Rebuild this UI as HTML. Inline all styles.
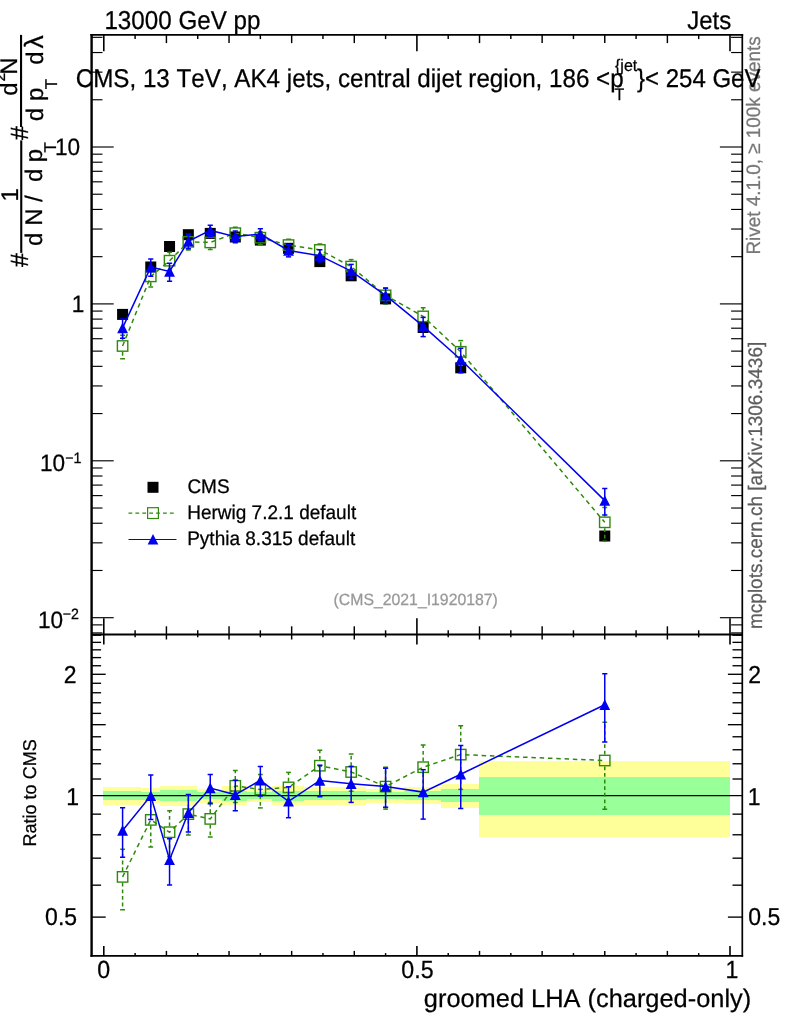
<!DOCTYPE html>
<html lang="en"><head><meta charset="utf-8"><title>groomed LHA (charged-only)</title>
<style>html,body{margin:0;padding:0;background:#fff;}svg{display:block;}</style></head>
<body>
<svg width="786" height="1024" viewBox="0 0 786 1024" font-family="'Liberation Sans', sans-serif" style="font-kerning:none" text-rendering="geometricPrecision">
<rect x="0" y="0" width="786" height="1024" fill="#ffffff"/>
<g shape-rendering="crispEdges">
<rect x="103.20" y="786.85" width="37.57" height="17.70" fill="#ffff99"/>
<rect x="140.77" y="788.20" width="18.79" height="15.00" fill="#ffff99"/>
<rect x="159.56" y="785.90" width="18.79" height="19.60" fill="#ffff99"/>
<rect x="178.34" y="785.90" width="18.79" height="19.60" fill="#ffff99"/>
<rect x="197.13" y="788.80" width="25.05" height="13.80" fill="#ffff99"/>
<rect x="222.18" y="786.40" width="25.05" height="18.60" fill="#ffff99"/>
<rect x="247.23" y="789.00" width="25.05" height="13.40" fill="#ffff99"/>
<rect x="272.27" y="786.40" width="31.31" height="18.60" fill="#ffff99"/>
<rect x="303.58" y="786.90" width="31.31" height="17.60" fill="#ffff99"/>
<rect x="334.89" y="786.90" width="31.31" height="17.60" fill="#ffff99"/>
<rect x="366.20" y="788.80" width="37.57" height="13.80" fill="#ffff99"/>
<rect x="403.78" y="787.30" width="37.57" height="16.80" fill="#ffff99"/>
<rect x="441.35" y="783.50" width="37.57" height="24.40" fill="#ffff99"/>
<rect x="103.20" y="791.10" width="37.57" height="9.20" fill="#99ff99"/>
<rect x="140.77" y="791.90" width="18.79" height="7.60" fill="#99ff99"/>
<rect x="159.56" y="790.40" width="18.79" height="10.60" fill="#99ff99"/>
<rect x="178.34" y="790.40" width="18.79" height="10.60" fill="#99ff99"/>
<rect x="197.13" y="792.10" width="25.05" height="7.20" fill="#99ff99"/>
<rect x="222.18" y="790.80" width="25.05" height="9.80" fill="#99ff99"/>
<rect x="247.23" y="792.20" width="25.05" height="7.00" fill="#99ff99"/>
<rect x="272.27" y="790.80" width="31.31" height="9.80" fill="#99ff99"/>
<rect x="303.58" y="791.00" width="31.31" height="9.40" fill="#99ff99"/>
<rect x="334.89" y="791.00" width="31.31" height="9.40" fill="#99ff99"/>
<rect x="366.20" y="792.30" width="37.57" height="6.80" fill="#99ff99"/>
<rect x="403.78" y="791.30" width="37.57" height="8.80" fill="#99ff99"/>
<rect x="441.35" y="789.40" width="37.57" height="12.60" fill="#99ff99"/>
<rect x="478.92" y="761.0" width="251.48" height="75.70" fill="#ffff99"/>
<rect x="478.92" y="777.3" width="251.48" height="37.60" fill="#99ff99"/>
</g>
<line x1="91.4" y1="795.7" x2="742.2" y2="795.7" stroke="#000" stroke-width="1.2"/>
<line x1="91.40" y1="632.91" x2="102.50" y2="632.91" stroke="#000" stroke-width="1.15"/>
<line x1="742.20" y1="632.91" x2="731.10" y2="632.91" stroke="#000" stroke-width="1.15"/>
<line x1="91.40" y1="624.88" x2="102.50" y2="624.88" stroke="#000" stroke-width="1.15"/>
<line x1="742.20" y1="624.88" x2="731.10" y2="624.88" stroke="#000" stroke-width="1.15"/>
<line x1="91.40" y1="617.70" x2="113.70" y2="617.70" stroke="#000" stroke-width="1.15"/>
<line x1="742.20" y1="617.70" x2="719.90" y2="617.70" stroke="#000" stroke-width="1.15"/>
<line x1="91.40" y1="570.47" x2="102.50" y2="570.47" stroke="#000" stroke-width="1.15"/>
<line x1="742.20" y1="570.47" x2="731.10" y2="570.47" stroke="#000" stroke-width="1.15"/>
<line x1="91.40" y1="542.84" x2="102.50" y2="542.84" stroke="#000" stroke-width="1.15"/>
<line x1="742.20" y1="542.84" x2="731.10" y2="542.84" stroke="#000" stroke-width="1.15"/>
<line x1="91.40" y1="523.24" x2="102.50" y2="523.24" stroke="#000" stroke-width="1.15"/>
<line x1="742.20" y1="523.24" x2="731.10" y2="523.24" stroke="#000" stroke-width="1.15"/>
<line x1="91.40" y1="508.03" x2="102.50" y2="508.03" stroke="#000" stroke-width="1.15"/>
<line x1="742.20" y1="508.03" x2="731.10" y2="508.03" stroke="#000" stroke-width="1.15"/>
<line x1="91.40" y1="495.61" x2="102.50" y2="495.61" stroke="#000" stroke-width="1.15"/>
<line x1="742.20" y1="495.61" x2="731.10" y2="495.61" stroke="#000" stroke-width="1.15"/>
<line x1="91.40" y1="485.10" x2="102.50" y2="485.10" stroke="#000" stroke-width="1.15"/>
<line x1="742.20" y1="485.10" x2="731.10" y2="485.10" stroke="#000" stroke-width="1.15"/>
<line x1="91.40" y1="476.01" x2="102.50" y2="476.01" stroke="#000" stroke-width="1.15"/>
<line x1="742.20" y1="476.01" x2="731.10" y2="476.01" stroke="#000" stroke-width="1.15"/>
<line x1="91.40" y1="467.98" x2="102.50" y2="467.98" stroke="#000" stroke-width="1.15"/>
<line x1="742.20" y1="467.98" x2="731.10" y2="467.98" stroke="#000" stroke-width="1.15"/>
<line x1="91.40" y1="460.80" x2="113.70" y2="460.80" stroke="#000" stroke-width="1.15"/>
<line x1="742.20" y1="460.80" x2="719.90" y2="460.80" stroke="#000" stroke-width="1.15"/>
<line x1="91.40" y1="413.57" x2="102.50" y2="413.57" stroke="#000" stroke-width="1.15"/>
<line x1="742.20" y1="413.57" x2="731.10" y2="413.57" stroke="#000" stroke-width="1.15"/>
<line x1="91.40" y1="385.94" x2="102.50" y2="385.94" stroke="#000" stroke-width="1.15"/>
<line x1="742.20" y1="385.94" x2="731.10" y2="385.94" stroke="#000" stroke-width="1.15"/>
<line x1="91.40" y1="366.34" x2="102.50" y2="366.34" stroke="#000" stroke-width="1.15"/>
<line x1="742.20" y1="366.34" x2="731.10" y2="366.34" stroke="#000" stroke-width="1.15"/>
<line x1="91.40" y1="351.13" x2="102.50" y2="351.13" stroke="#000" stroke-width="1.15"/>
<line x1="742.20" y1="351.13" x2="731.10" y2="351.13" stroke="#000" stroke-width="1.15"/>
<line x1="91.40" y1="338.71" x2="102.50" y2="338.71" stroke="#000" stroke-width="1.15"/>
<line x1="742.20" y1="338.71" x2="731.10" y2="338.71" stroke="#000" stroke-width="1.15"/>
<line x1="91.40" y1="328.20" x2="102.50" y2="328.20" stroke="#000" stroke-width="1.15"/>
<line x1="742.20" y1="328.20" x2="731.10" y2="328.20" stroke="#000" stroke-width="1.15"/>
<line x1="91.40" y1="319.11" x2="102.50" y2="319.11" stroke="#000" stroke-width="1.15"/>
<line x1="742.20" y1="319.11" x2="731.10" y2="319.11" stroke="#000" stroke-width="1.15"/>
<line x1="91.40" y1="311.08" x2="102.50" y2="311.08" stroke="#000" stroke-width="1.15"/>
<line x1="742.20" y1="311.08" x2="731.10" y2="311.08" stroke="#000" stroke-width="1.15"/>
<line x1="91.40" y1="303.90" x2="113.70" y2="303.90" stroke="#000" stroke-width="1.15"/>
<line x1="742.20" y1="303.90" x2="719.90" y2="303.90" stroke="#000" stroke-width="1.15"/>
<line x1="91.40" y1="256.67" x2="102.50" y2="256.67" stroke="#000" stroke-width="1.15"/>
<line x1="742.20" y1="256.67" x2="731.10" y2="256.67" stroke="#000" stroke-width="1.15"/>
<line x1="91.40" y1="229.04" x2="102.50" y2="229.04" stroke="#000" stroke-width="1.15"/>
<line x1="742.20" y1="229.04" x2="731.10" y2="229.04" stroke="#000" stroke-width="1.15"/>
<line x1="91.40" y1="209.44" x2="102.50" y2="209.44" stroke="#000" stroke-width="1.15"/>
<line x1="742.20" y1="209.44" x2="731.10" y2="209.44" stroke="#000" stroke-width="1.15"/>
<line x1="91.40" y1="194.23" x2="102.50" y2="194.23" stroke="#000" stroke-width="1.15"/>
<line x1="742.20" y1="194.23" x2="731.10" y2="194.23" stroke="#000" stroke-width="1.15"/>
<line x1="91.40" y1="181.81" x2="102.50" y2="181.81" stroke="#000" stroke-width="1.15"/>
<line x1="742.20" y1="181.81" x2="731.10" y2="181.81" stroke="#000" stroke-width="1.15"/>
<line x1="91.40" y1="171.30" x2="102.50" y2="171.30" stroke="#000" stroke-width="1.15"/>
<line x1="742.20" y1="171.30" x2="731.10" y2="171.30" stroke="#000" stroke-width="1.15"/>
<line x1="91.40" y1="162.21" x2="102.50" y2="162.21" stroke="#000" stroke-width="1.15"/>
<line x1="742.20" y1="162.21" x2="731.10" y2="162.21" stroke="#000" stroke-width="1.15"/>
<line x1="91.40" y1="154.18" x2="102.50" y2="154.18" stroke="#000" stroke-width="1.15"/>
<line x1="742.20" y1="154.18" x2="731.10" y2="154.18" stroke="#000" stroke-width="1.15"/>
<line x1="91.40" y1="147.00" x2="113.70" y2="147.00" stroke="#000" stroke-width="1.15"/>
<line x1="742.20" y1="147.00" x2="719.90" y2="147.00" stroke="#000" stroke-width="1.15"/>
<line x1="91.40" y1="99.77" x2="102.50" y2="99.77" stroke="#000" stroke-width="1.15"/>
<line x1="742.20" y1="99.77" x2="731.10" y2="99.77" stroke="#000" stroke-width="1.15"/>
<line x1="91.40" y1="72.14" x2="102.50" y2="72.14" stroke="#000" stroke-width="1.15"/>
<line x1="742.20" y1="72.14" x2="731.10" y2="72.14" stroke="#000" stroke-width="1.15"/>
<line x1="91.40" y1="52.54" x2="102.50" y2="52.54" stroke="#000" stroke-width="1.15"/>
<line x1="742.20" y1="52.54" x2="731.10" y2="52.54" stroke="#000" stroke-width="1.15"/>
<line x1="91.40" y1="37.33" x2="102.50" y2="37.33" stroke="#000" stroke-width="1.15"/>
<line x1="742.20" y1="37.33" x2="731.10" y2="37.33" stroke="#000" stroke-width="1.15"/>
<line x1="91.40" y1="917.11" x2="105.70" y2="917.11" stroke="#000" stroke-width="1.35"/>
<line x1="742.20" y1="917.11" x2="727.90" y2="917.11" stroke="#000" stroke-width="1.35"/>
<line x1="91.40" y1="885.17" x2="101.10" y2="885.17" stroke="#000" stroke-width="1.35"/>
<line x1="742.20" y1="885.17" x2="732.50" y2="885.17" stroke="#000" stroke-width="1.35"/>
<line x1="91.40" y1="858.17" x2="101.10" y2="858.17" stroke="#000" stroke-width="1.35"/>
<line x1="742.20" y1="858.17" x2="732.50" y2="858.17" stroke="#000" stroke-width="1.35"/>
<line x1="91.40" y1="834.78" x2="101.10" y2="834.78" stroke="#000" stroke-width="1.35"/>
<line x1="742.20" y1="834.78" x2="732.50" y2="834.78" stroke="#000" stroke-width="1.35"/>
<line x1="91.40" y1="814.15" x2="101.10" y2="814.15" stroke="#000" stroke-width="1.35"/>
<line x1="742.20" y1="814.15" x2="732.50" y2="814.15" stroke="#000" stroke-width="1.35"/>
<line x1="91.40" y1="779.01" x2="101.10" y2="779.01" stroke="#000" stroke-width="1.35"/>
<line x1="742.20" y1="779.01" x2="732.50" y2="779.01" stroke="#000" stroke-width="1.35"/>
<line x1="91.40" y1="763.77" x2="101.10" y2="763.77" stroke="#000" stroke-width="1.35"/>
<line x1="742.20" y1="763.77" x2="732.50" y2="763.77" stroke="#000" stroke-width="1.35"/>
<line x1="91.40" y1="749.75" x2="101.10" y2="749.75" stroke="#000" stroke-width="1.35"/>
<line x1="742.20" y1="749.75" x2="732.50" y2="749.75" stroke="#000" stroke-width="1.35"/>
<line x1="91.40" y1="736.77" x2="101.10" y2="736.77" stroke="#000" stroke-width="1.35"/>
<line x1="742.20" y1="736.77" x2="732.50" y2="736.77" stroke="#000" stroke-width="1.35"/>
<line x1="91.40" y1="724.68" x2="105.70" y2="724.68" stroke="#000" stroke-width="1.35"/>
<line x1="742.20" y1="724.68" x2="727.90" y2="724.68" stroke="#000" stroke-width="1.35"/>
<line x1="91.40" y1="713.38" x2="101.10" y2="713.38" stroke="#000" stroke-width="1.35"/>
<line x1="742.20" y1="713.38" x2="732.50" y2="713.38" stroke="#000" stroke-width="1.35"/>
<line x1="91.40" y1="702.76" x2="101.10" y2="702.76" stroke="#000" stroke-width="1.35"/>
<line x1="742.20" y1="702.76" x2="732.50" y2="702.76" stroke="#000" stroke-width="1.35"/>
<line x1="91.40" y1="692.75" x2="101.10" y2="692.75" stroke="#000" stroke-width="1.35"/>
<line x1="742.20" y1="692.75" x2="732.50" y2="692.75" stroke="#000" stroke-width="1.35"/>
<line x1="91.40" y1="683.28" x2="101.10" y2="683.28" stroke="#000" stroke-width="1.35"/>
<line x1="742.20" y1="683.28" x2="732.50" y2="683.28" stroke="#000" stroke-width="1.35"/>
<line x1="91.40" y1="674.29" x2="105.70" y2="674.29" stroke="#000" stroke-width="1.35"/>
<line x1="742.20" y1="674.29" x2="727.90" y2="674.29" stroke="#000" stroke-width="1.35"/>
<line x1="91.40" y1="665.75" x2="101.10" y2="665.75" stroke="#000" stroke-width="1.35"/>
<line x1="742.20" y1="665.75" x2="732.50" y2="665.75" stroke="#000" stroke-width="1.35"/>
<line x1="91.40" y1="657.60" x2="101.10" y2="657.60" stroke="#000" stroke-width="1.35"/>
<line x1="742.20" y1="657.60" x2="732.50" y2="657.60" stroke="#000" stroke-width="1.35"/>
<line x1="91.40" y1="649.82" x2="101.10" y2="649.82" stroke="#000" stroke-width="1.35"/>
<line x1="742.20" y1="649.82" x2="732.50" y2="649.82" stroke="#000" stroke-width="1.35"/>
<line x1="91.40" y1="642.36" x2="101.10" y2="642.36" stroke="#000" stroke-width="1.35"/>
<line x1="742.20" y1="642.36" x2="732.50" y2="642.36" stroke="#000" stroke-width="1.35"/>
<line x1="91.40" y1="635.21" x2="101.10" y2="635.21" stroke="#000" stroke-width="1.35"/>
<line x1="742.20" y1="635.21" x2="732.50" y2="635.21" stroke="#000" stroke-width="1.35"/>
<line x1="103.80" y1="34.90" x2="103.80" y2="51.20" stroke="#000" stroke-width="1.6"/>
<line x1="103.80" y1="634.50" x2="103.80" y2="618.20" stroke="#000" stroke-width="1.6"/>
<line x1="103.80" y1="634.50" x2="103.80" y2="644.50" stroke="#000" stroke-width="1.6"/>
<line x1="103.80" y1="955.90" x2="103.80" y2="945.90" stroke="#000" stroke-width="1.6"/>
<line x1="135.11" y1="34.90" x2="135.11" y2="39.10" stroke="#000" stroke-width="1.45"/>
<line x1="135.11" y1="634.50" x2="135.11" y2="630.30" stroke="#000" stroke-width="1.45"/>
<line x1="135.11" y1="634.50" x2="135.11" y2="637.30" stroke="#000" stroke-width="1.45"/>
<line x1="135.11" y1="955.90" x2="135.11" y2="953.10" stroke="#000" stroke-width="1.45"/>
<line x1="166.42" y1="34.90" x2="166.42" y2="43.10" stroke="#000" stroke-width="1.45"/>
<line x1="166.42" y1="634.50" x2="166.42" y2="626.30" stroke="#000" stroke-width="1.45"/>
<line x1="166.42" y1="634.50" x2="166.42" y2="639.50" stroke="#000" stroke-width="1.45"/>
<line x1="166.42" y1="955.90" x2="166.42" y2="950.90" stroke="#000" stroke-width="1.45"/>
<line x1="197.73" y1="34.90" x2="197.73" y2="39.10" stroke="#000" stroke-width="1.45"/>
<line x1="197.73" y1="634.50" x2="197.73" y2="630.30" stroke="#000" stroke-width="1.45"/>
<line x1="197.73" y1="634.50" x2="197.73" y2="637.30" stroke="#000" stroke-width="1.45"/>
<line x1="197.73" y1="955.90" x2="197.73" y2="953.10" stroke="#000" stroke-width="1.45"/>
<line x1="229.04" y1="34.90" x2="229.04" y2="43.10" stroke="#000" stroke-width="1.45"/>
<line x1="229.04" y1="634.50" x2="229.04" y2="626.30" stroke="#000" stroke-width="1.45"/>
<line x1="229.04" y1="634.50" x2="229.04" y2="639.50" stroke="#000" stroke-width="1.45"/>
<line x1="229.04" y1="955.90" x2="229.04" y2="950.90" stroke="#000" stroke-width="1.45"/>
<line x1="260.35" y1="34.90" x2="260.35" y2="39.10" stroke="#000" stroke-width="1.45"/>
<line x1="260.35" y1="634.50" x2="260.35" y2="630.30" stroke="#000" stroke-width="1.45"/>
<line x1="260.35" y1="634.50" x2="260.35" y2="637.30" stroke="#000" stroke-width="1.45"/>
<line x1="260.35" y1="955.90" x2="260.35" y2="953.10" stroke="#000" stroke-width="1.45"/>
<line x1="291.66" y1="34.90" x2="291.66" y2="43.10" stroke="#000" stroke-width="1.45"/>
<line x1="291.66" y1="634.50" x2="291.66" y2="626.30" stroke="#000" stroke-width="1.45"/>
<line x1="291.66" y1="634.50" x2="291.66" y2="639.50" stroke="#000" stroke-width="1.45"/>
<line x1="291.66" y1="955.90" x2="291.66" y2="950.90" stroke="#000" stroke-width="1.45"/>
<line x1="322.97" y1="34.90" x2="322.97" y2="39.10" stroke="#000" stroke-width="1.45"/>
<line x1="322.97" y1="634.50" x2="322.97" y2="630.30" stroke="#000" stroke-width="1.45"/>
<line x1="322.97" y1="634.50" x2="322.97" y2="637.30" stroke="#000" stroke-width="1.45"/>
<line x1="322.97" y1="955.90" x2="322.97" y2="953.10" stroke="#000" stroke-width="1.45"/>
<line x1="354.28" y1="34.90" x2="354.28" y2="43.10" stroke="#000" stroke-width="1.45"/>
<line x1="354.28" y1="634.50" x2="354.28" y2="626.30" stroke="#000" stroke-width="1.45"/>
<line x1="354.28" y1="634.50" x2="354.28" y2="639.50" stroke="#000" stroke-width="1.45"/>
<line x1="354.28" y1="955.90" x2="354.28" y2="950.90" stroke="#000" stroke-width="1.45"/>
<line x1="385.59" y1="34.90" x2="385.59" y2="39.10" stroke="#000" stroke-width="1.45"/>
<line x1="385.59" y1="634.50" x2="385.59" y2="630.30" stroke="#000" stroke-width="1.45"/>
<line x1="385.59" y1="634.50" x2="385.59" y2="637.30" stroke="#000" stroke-width="1.45"/>
<line x1="385.59" y1="955.90" x2="385.59" y2="953.10" stroke="#000" stroke-width="1.45"/>
<line x1="416.90" y1="34.90" x2="416.90" y2="51.20" stroke="#000" stroke-width="1.6"/>
<line x1="416.90" y1="634.50" x2="416.90" y2="618.20" stroke="#000" stroke-width="1.6"/>
<line x1="416.90" y1="634.50" x2="416.90" y2="644.50" stroke="#000" stroke-width="1.6"/>
<line x1="416.90" y1="955.90" x2="416.90" y2="945.90" stroke="#000" stroke-width="1.6"/>
<line x1="448.21" y1="34.90" x2="448.21" y2="39.10" stroke="#000" stroke-width="1.45"/>
<line x1="448.21" y1="634.50" x2="448.21" y2="630.30" stroke="#000" stroke-width="1.45"/>
<line x1="448.21" y1="634.50" x2="448.21" y2="637.30" stroke="#000" stroke-width="1.45"/>
<line x1="448.21" y1="955.90" x2="448.21" y2="953.10" stroke="#000" stroke-width="1.45"/>
<line x1="479.52" y1="34.90" x2="479.52" y2="43.10" stroke="#000" stroke-width="1.45"/>
<line x1="479.52" y1="634.50" x2="479.52" y2="626.30" stroke="#000" stroke-width="1.45"/>
<line x1="479.52" y1="634.50" x2="479.52" y2="639.50" stroke="#000" stroke-width="1.45"/>
<line x1="479.52" y1="955.90" x2="479.52" y2="950.90" stroke="#000" stroke-width="1.45"/>
<line x1="510.83" y1="34.90" x2="510.83" y2="39.10" stroke="#000" stroke-width="1.45"/>
<line x1="510.83" y1="634.50" x2="510.83" y2="630.30" stroke="#000" stroke-width="1.45"/>
<line x1="510.83" y1="634.50" x2="510.83" y2="637.30" stroke="#000" stroke-width="1.45"/>
<line x1="510.83" y1="955.90" x2="510.83" y2="953.10" stroke="#000" stroke-width="1.45"/>
<line x1="542.14" y1="34.90" x2="542.14" y2="43.10" stroke="#000" stroke-width="1.45"/>
<line x1="542.14" y1="634.50" x2="542.14" y2="626.30" stroke="#000" stroke-width="1.45"/>
<line x1="542.14" y1="634.50" x2="542.14" y2="639.50" stroke="#000" stroke-width="1.45"/>
<line x1="542.14" y1="955.90" x2="542.14" y2="950.90" stroke="#000" stroke-width="1.45"/>
<line x1="573.45" y1="34.90" x2="573.45" y2="39.10" stroke="#000" stroke-width="1.45"/>
<line x1="573.45" y1="634.50" x2="573.45" y2="630.30" stroke="#000" stroke-width="1.45"/>
<line x1="573.45" y1="634.50" x2="573.45" y2="637.30" stroke="#000" stroke-width="1.45"/>
<line x1="573.45" y1="955.90" x2="573.45" y2="953.10" stroke="#000" stroke-width="1.45"/>
<line x1="604.76" y1="34.90" x2="604.76" y2="43.10" stroke="#000" stroke-width="1.45"/>
<line x1="604.76" y1="634.50" x2="604.76" y2="626.30" stroke="#000" stroke-width="1.45"/>
<line x1="604.76" y1="634.50" x2="604.76" y2="639.50" stroke="#000" stroke-width="1.45"/>
<line x1="604.76" y1="955.90" x2="604.76" y2="950.90" stroke="#000" stroke-width="1.45"/>
<line x1="636.07" y1="34.90" x2="636.07" y2="39.10" stroke="#000" stroke-width="1.45"/>
<line x1="636.07" y1="634.50" x2="636.07" y2="630.30" stroke="#000" stroke-width="1.45"/>
<line x1="636.07" y1="634.50" x2="636.07" y2="637.30" stroke="#000" stroke-width="1.45"/>
<line x1="636.07" y1="955.90" x2="636.07" y2="953.10" stroke="#000" stroke-width="1.45"/>
<line x1="667.38" y1="34.90" x2="667.38" y2="43.10" stroke="#000" stroke-width="1.45"/>
<line x1="667.38" y1="634.50" x2="667.38" y2="626.30" stroke="#000" stroke-width="1.45"/>
<line x1="667.38" y1="634.50" x2="667.38" y2="639.50" stroke="#000" stroke-width="1.45"/>
<line x1="667.38" y1="955.90" x2="667.38" y2="950.90" stroke="#000" stroke-width="1.45"/>
<line x1="698.69" y1="34.90" x2="698.69" y2="39.10" stroke="#000" stroke-width="1.45"/>
<line x1="698.69" y1="634.50" x2="698.69" y2="630.30" stroke="#000" stroke-width="1.45"/>
<line x1="698.69" y1="634.50" x2="698.69" y2="637.30" stroke="#000" stroke-width="1.45"/>
<line x1="698.69" y1="955.90" x2="698.69" y2="953.10" stroke="#000" stroke-width="1.45"/>
<line x1="730.00" y1="34.90" x2="730.00" y2="51.20" stroke="#000" stroke-width="1.6"/>
<line x1="730.00" y1="634.50" x2="730.00" y2="618.20" stroke="#000" stroke-width="1.6"/>
<line x1="730.00" y1="634.50" x2="730.00" y2="644.50" stroke="#000" stroke-width="1.6"/>
<line x1="730.00" y1="955.90" x2="730.00" y2="945.90" stroke="#000" stroke-width="1.6"/>
<line x1="91.60000000000001" y1="34.0" x2="91.60000000000001" y2="956.8" stroke="#000" stroke-width="2.4"/>
<line x1="742.3000000000001" y1="34.0" x2="742.3000000000001" y2="956.8" stroke="#000" stroke-width="1.7"/>
<line x1="90.4" y1="34.9" x2="743.1500000000001" y2="34.9" stroke="#000" stroke-width="1.8"/>
<line x1="90.4" y1="955.9" x2="743.1500000000001" y2="955.9" stroke="#000" stroke-width="1.8"/>
<line x1="91.4" y1="634.5" x2="742.2" y2="634.5" stroke="#000" stroke-width="2.2"/>
<defs>
<clipPath id="cm"><rect x="91.4" y="34.9" width="650.80" height="599.60"/></clipPath>
<clipPath id="cr"><rect x="91.4" y="634.5" width="650.80" height="321.40"/></clipPath>
</defs>
<rect x="117.09" y="308.90" width="11.00" height="11.00" fill="#000"/>
<rect x="145.26" y="261.50" width="11.00" height="11.00" fill="#000"/>
<rect x="164.05" y="241.00" width="11.00" height="11.00" fill="#000"/>
<rect x="182.84" y="229.20" width="11.00" height="11.00" fill="#000"/>
<rect x="204.75" y="227.90" width="11.00" height="11.00" fill="#000"/>
<rect x="229.80" y="231.50" width="11.00" height="11.00" fill="#000"/>
<rect x="254.85" y="234.60" width="11.00" height="11.00" fill="#000"/>
<rect x="283.03" y="242.80" width="11.00" height="11.00" fill="#000"/>
<rect x="314.34" y="256.10" width="11.00" height="11.00" fill="#000"/>
<rect x="345.65" y="270.30" width="11.00" height="11.00" fill="#000"/>
<rect x="380.09" y="293.40" width="11.00" height="11.00" fill="#000"/>
<rect x="417.66" y="322.00" width="11.00" height="11.00" fill="#000"/>
<rect x="455.23" y="362.30" width="11.00" height="11.00" fill="#000"/>
<rect x="599.26" y="530.50" width="11.00" height="11.00" fill="#000"/>
<g clip-path="url(#cm)" fill="none" stroke="#2f8a0b" stroke-width="1.5">
<polyline stroke-dasharray="4.5 3.8" points="122.59,345.99 150.76,276.41 169.55,260.70 188.34,241.86 210.25,242.43 235.30,233.15 260.35,237.69 288.53,245.07 319.84,249.93 351.15,266.58 385.59,295.36 423.16,316.41 460.73,351.81 604.76,522.31"/>
<line x1="122.59" y1="340.09" x2="122.59" y2="335.25" stroke-dasharray="3.8 2.8"/>
<line x1="122.59" y1="351.89" x2="122.59" y2="358.75" stroke-dasharray="3.8 2.8"/>
<line x1="120.19" y1="335.25" x2="124.99" y2="335.25"/>
<line x1="120.19" y1="358.75" x2="124.99" y2="358.75"/>
<rect x="117.39" y="340.79" width="10.40" height="10.40" stroke-width="1.4"/>
<line x1="150.76" y1="270.51" x2="150.76" y2="267.27" stroke-dasharray="3.8 2.8"/>
<line x1="150.76" y1="282.31" x2="150.76" y2="286.96" stroke-dasharray="3.8 2.8"/>
<line x1="148.36" y1="267.27" x2="153.16" y2="267.27"/>
<line x1="148.36" y1="286.96" x2="153.16" y2="286.96"/>
<rect x="145.56" y="271.21" width="10.40" height="10.40" stroke-width="1.4"/>
<line x1="169.55" y1="254.80" x2="169.55" y2="252.34" stroke-dasharray="3.8 2.8"/>
<line x1="169.55" y1="266.60" x2="169.55" y2="270.23" stroke-dasharray="3.8 2.8"/>
<line x1="167.15" y1="252.34" x2="171.95" y2="252.34"/>
<line x1="167.15" y1="270.23" x2="171.95" y2="270.23"/>
<rect x="164.35" y="255.50" width="10.40" height="10.40" stroke-width="1.4"/>
<line x1="188.34" y1="235.96" x2="188.34" y2="234.58" stroke-dasharray="3.8 2.8"/>
<line x1="188.34" y1="247.76" x2="188.34" y2="250.03" stroke-dasharray="3.8 2.8"/>
<line x1="185.94" y1="234.58" x2="190.74" y2="234.58"/>
<line x1="185.94" y1="250.03" x2="190.74" y2="250.03"/>
<rect x="183.14" y="236.66" width="10.40" height="10.40" stroke-width="1.4"/>
<line x1="210.25" y1="236.53" x2="210.25" y2="236.08" stroke-dasharray="3.8 2.8"/>
<line x1="210.25" y1="248.33" x2="210.25" y2="249.43" stroke-dasharray="3.8 2.8"/>
<line x1="207.85" y1="236.08" x2="212.65" y2="236.08"/>
<line x1="207.85" y1="249.43" x2="212.65" y2="249.43"/>
<rect x="205.05" y="237.23" width="10.40" height="10.40" stroke-width="1.4"/>
<line x1="235.30" y1="227.25" x2="235.30" y2="227.20" stroke-dasharray="3.8 2.8"/>
<line x1="235.30" y1="239.05" x2="235.30" y2="239.65" stroke-dasharray="3.8 2.8"/>
<line x1="232.90" y1="227.20" x2="237.70" y2="227.20"/>
<line x1="232.90" y1="239.65" x2="237.70" y2="239.65"/>
<rect x="230.10" y="227.95" width="10.40" height="10.40" stroke-width="1.4"/>
<line x1="260.35" y1="243.59" x2="260.35" y2="244.85" stroke-dasharray="3.8 2.8"/>
<line x1="257.95" y1="231.85" x2="262.75" y2="231.85"/>
<line x1="257.95" y1="244.85" x2="262.75" y2="244.85"/>
<rect x="255.15" y="232.49" width="10.40" height="10.40" stroke-width="1.4"/>
<line x1="288.53" y1="250.97" x2="288.53" y2="251.45" stroke-dasharray="3.8 2.8"/>
<line x1="286.13" y1="239.24" x2="290.93" y2="239.24"/>
<line x1="286.13" y1="251.45" x2="290.93" y2="251.45"/>
<rect x="283.33" y="239.87" width="10.40" height="10.40" stroke-width="1.4"/>
<line x1="319.84" y1="244.03" x2="319.84" y2="243.90" stroke-dasharray="3.8 2.8"/>
<line x1="319.84" y1="255.83" x2="319.84" y2="256.54" stroke-dasharray="3.8 2.8"/>
<line x1="317.44" y1="243.90" x2="322.24" y2="243.90"/>
<line x1="317.44" y1="256.54" x2="322.24" y2="256.54"/>
<rect x="314.64" y="244.73" width="10.40" height="10.40" stroke-width="1.4"/>
<line x1="351.15" y1="260.68" x2="351.15" y2="259.62" stroke-dasharray="3.8 2.8"/>
<line x1="351.15" y1="272.48" x2="351.15" y2="274.05" stroke-dasharray="3.8 2.8"/>
<line x1="348.75" y1="259.62" x2="353.55" y2="259.62"/>
<line x1="348.75" y1="274.05" x2="353.55" y2="274.05"/>
<rect x="345.95" y="261.38" width="10.40" height="10.40" stroke-width="1.4"/>
<line x1="385.59" y1="289.46" x2="385.59" y2="287.81" stroke-dasharray="3.8 2.8"/>
<line x1="385.59" y1="301.26" x2="385.59" y2="304.11" stroke-dasharray="3.8 2.8"/>
<line x1="383.19" y1="287.81" x2="387.99" y2="287.81"/>
<line x1="383.19" y1="304.11" x2="387.99" y2="304.11"/>
<rect x="380.39" y="290.16" width="10.40" height="10.40" stroke-width="1.4"/>
<line x1="423.16" y1="310.51" x2="423.16" y2="307.74" stroke-dasharray="3.8 2.8"/>
<line x1="423.16" y1="322.31" x2="423.16" y2="326.37" stroke-dasharray="3.8 2.8"/>
<line x1="420.76" y1="307.74" x2="425.56" y2="307.74"/>
<line x1="420.76" y1="326.37" x2="425.56" y2="326.37"/>
<rect x="417.96" y="311.21" width="10.40" height="10.40" stroke-width="1.4"/>
<line x1="460.73" y1="345.91" x2="460.73" y2="340.61" stroke-dasharray="3.8 2.8"/>
<line x1="460.73" y1="357.71" x2="460.73" y2="365.35" stroke-dasharray="3.8 2.8"/>
<line x1="458.33" y1="340.61" x2="463.13" y2="340.61"/>
<line x1="458.33" y1="365.35" x2="463.13" y2="365.35"/>
<rect x="455.53" y="346.61" width="10.40" height="10.40" stroke-width="1.4"/>
<line x1="604.76" y1="516.41" x2="604.76" y2="507.41" stroke-dasharray="3.8 2.8"/>
<line x1="604.76" y1="528.21" x2="604.76" y2="541.25" stroke-dasharray="3.8 2.8"/>
<line x1="602.36" y1="507.41" x2="607.16" y2="507.41"/>
<line x1="602.36" y1="541.25" x2="607.16" y2="541.25"/>
<rect x="599.56" y="517.11" width="10.40" height="10.40" stroke-width="1.4"/>
</g>
<g clip-path="url(#cm)" fill="none" stroke="#0000f0" stroke-width="1.5">
<polyline points="122.59,327.94 150.76,267.08 169.55,271.44 188.34,241.31 210.25,230.40 235.30,236.61 260.35,234.11 288.53,250.52 319.84,255.69 351.15,271.13 385.59,295.36 423.16,326.10 460.73,359.44 604.76,500.60"/>
<line x1="122.59" y1="319.11" x2="122.59" y2="338.33"/>
<line x1="119.99" y1="319.11" x2="125.19" y2="319.11"/>
<line x1="119.99" y1="338.33" x2="125.19" y2="338.33"/>
<polygon points="117.19,333.14 127.99,333.14 122.59,322.54" fill="#0000f0" stroke="none"/>
<line x1="150.76" y1="258.99" x2="150.76" y2="276.30"/>
<line x1="148.16" y1="258.99" x2="153.36" y2="258.99"/>
<line x1="148.16" y1="276.30" x2="153.36" y2="276.30"/>
<polygon points="145.36,272.28 156.16,272.28 150.76,261.68" fill="#0000f0" stroke="none"/>
<line x1="169.55" y1="263.23" x2="169.55" y2="281.20"/>
<line x1="166.95" y1="263.23" x2="172.15" y2="263.23"/>
<line x1="166.95" y1="281.20" x2="172.15" y2="281.20"/>
<polygon points="164.15,276.64 174.95,276.64 169.55,266.04" fill="#0000f0" stroke="none"/>
<line x1="188.34" y1="234.19" x2="188.34" y2="248.82"/>
<line x1="185.74" y1="234.19" x2="190.94" y2="234.19"/>
<line x1="185.74" y1="248.82" x2="190.94" y2="248.82"/>
<polygon points="182.94,246.51 193.74,246.51 188.34,235.91" fill="#0000f0" stroke="none"/>
<line x1="210.25" y1="225.15" x2="210.25" y2="236.55"/>
<line x1="207.65" y1="225.15" x2="212.85" y2="225.15"/>
<line x1="207.65" y1="236.55" x2="212.85" y2="236.55"/>
<polygon points="204.85,235.60 215.65,235.60 210.25,225.00" fill="#0000f0" stroke="none"/>
<line x1="235.30" y1="231.01" x2="235.30" y2="242.87"/>
<line x1="232.70" y1="231.01" x2="237.90" y2="231.01"/>
<line x1="232.70" y1="242.87" x2="237.90" y2="242.87"/>
<polygon points="229.90,241.81 240.70,241.81 235.30,231.21" fill="#0000f0" stroke="none"/>
<line x1="260.35" y1="228.74" x2="260.35" y2="240.22"/>
<line x1="257.75" y1="228.74" x2="262.95" y2="228.74"/>
<line x1="257.75" y1="240.22" x2="262.95" y2="240.22"/>
<polygon points="254.95,239.31 265.75,239.31 260.35,228.71" fill="#0000f0" stroke="none"/>
<line x1="288.53" y1="244.84" x2="288.53" y2="256.86"/>
<line x1="285.93" y1="244.84" x2="291.13" y2="244.84"/>
<line x1="285.93" y1="256.86" x2="291.13" y2="256.86"/>
<polygon points="283.13,255.72 293.93,255.72 288.53,245.12" fill="#0000f0" stroke="none"/>
<line x1="319.84" y1="249.73" x2="319.84" y2="261.99"/>
<line x1="317.24" y1="249.73" x2="322.44" y2="249.73"/>
<line x1="317.24" y1="261.99" x2="322.44" y2="261.99"/>
<polygon points="314.44,260.89 325.24,260.89 319.84,250.29" fill="#0000f0" stroke="none"/>
<line x1="351.15" y1="264.40" x2="351.15" y2="278.41"/>
<line x1="348.55" y1="264.40" x2="353.75" y2="264.40"/>
<line x1="348.55" y1="278.41" x2="353.75" y2="278.41"/>
<polygon points="345.75,276.33 356.55,276.33 351.15,265.73" fill="#0000f0" stroke="none"/>
<line x1="385.59" y1="288.20" x2="385.59" y2="303.37"/>
<line x1="382.99" y1="288.20" x2="388.19" y2="288.20"/>
<line x1="382.99" y1="303.37" x2="388.19" y2="303.37"/>
<polygon points="380.19,300.56 390.99,300.56 385.59,289.96" fill="#0000f0" stroke="none"/>
<line x1="423.16" y1="317.38" x2="423.16" y2="336.60"/>
<line x1="420.56" y1="317.38" x2="425.76" y2="317.38"/>
<line x1="420.56" y1="336.60" x2="425.76" y2="336.60"/>
<polygon points="417.76,331.30 428.56,331.30 423.16,320.70" fill="#0000f0" stroke="none"/>
<line x1="460.73" y1="348.27" x2="460.73" y2="372.78"/>
<line x1="458.13" y1="348.27" x2="463.33" y2="348.27"/>
<line x1="458.13" y1="372.78" x2="463.33" y2="372.78"/>
<polygon points="455.33,364.64 466.13,364.64 460.73,354.04" fill="#0000f0" stroke="none"/>
<line x1="604.76" y1="488.56" x2="604.76" y2="515.11"/>
<line x1="602.16" y1="488.56" x2="607.36" y2="488.56"/>
<line x1="602.16" y1="515.11" x2="607.36" y2="515.11"/>
<polygon points="599.36,505.80 610.16,505.80 604.76,495.20" fill="#0000f0" stroke="none"/>
</g>
<g clip-path="url(#cr)" fill="none" stroke="#2f8a0b" stroke-width="1.5">
<polyline stroke-dasharray="4.5 3.8" points="122.59,876.90 150.76,819.90 169.55,832.20 188.34,814.10 210.25,818.90 235.30,785.80 260.35,789.50 288.53,787.40 319.84,765.70 351.15,772.00 385.59,786.60 423.16,767.20 460.73,754.60 604.76,760.50"/>
<line x1="122.59" y1="871.00" x2="122.59" y2="849.30" stroke-dasharray="3.8 2.8"/>
<line x1="122.59" y1="882.80" x2="122.59" y2="909.70" stroke-dasharray="3.8 2.8"/>
<line x1="120.19" y1="849.30" x2="124.99" y2="849.30"/>
<line x1="120.19" y1="909.70" x2="124.99" y2="909.70"/>
<rect x="117.39" y="871.70" width="10.40" height="10.40" stroke-width="1.4"/>
<line x1="150.76" y1="814.00" x2="150.76" y2="796.40" stroke-dasharray="3.8 2.8"/>
<line x1="150.76" y1="825.80" x2="150.76" y2="847.00" stroke-dasharray="3.8 2.8"/>
<line x1="148.36" y1="796.40" x2="153.16" y2="796.40"/>
<line x1="148.36" y1="847.00" x2="153.16" y2="847.00"/>
<rect x="145.56" y="814.70" width="10.40" height="10.40" stroke-width="1.4"/>
<line x1="169.55" y1="826.30" x2="169.55" y2="810.70" stroke-dasharray="3.8 2.8"/>
<line x1="169.55" y1="838.10" x2="169.55" y2="856.70" stroke-dasharray="3.8 2.8"/>
<line x1="167.15" y1="810.70" x2="171.95" y2="810.70"/>
<line x1="167.15" y1="856.70" x2="171.95" y2="856.70"/>
<rect x="164.35" y="827.00" width="10.40" height="10.40" stroke-width="1.4"/>
<line x1="188.34" y1="808.20" x2="188.34" y2="795.40" stroke-dasharray="3.8 2.8"/>
<line x1="188.34" y1="820.00" x2="188.34" y2="835.10" stroke-dasharray="3.8 2.8"/>
<line x1="185.94" y1="795.40" x2="190.74" y2="795.40"/>
<line x1="185.94" y1="835.10" x2="190.74" y2="835.10"/>
<rect x="183.14" y="808.90" width="10.40" height="10.40" stroke-width="1.4"/>
<line x1="210.25" y1="813.00" x2="210.25" y2="802.60" stroke-dasharray="3.8 2.8"/>
<line x1="210.25" y1="824.80" x2="210.25" y2="836.90" stroke-dasharray="3.8 2.8"/>
<line x1="207.85" y1="802.60" x2="212.65" y2="802.60"/>
<line x1="207.85" y1="836.90" x2="212.65" y2="836.90"/>
<rect x="205.05" y="813.70" width="10.40" height="10.40" stroke-width="1.4"/>
<line x1="235.30" y1="779.90" x2="235.30" y2="770.50" stroke-dasharray="3.8 2.8"/>
<line x1="235.30" y1="791.70" x2="235.30" y2="802.50" stroke-dasharray="3.8 2.8"/>
<line x1="232.90" y1="770.50" x2="237.70" y2="770.50"/>
<line x1="232.90" y1="802.50" x2="237.70" y2="802.50"/>
<rect x="230.10" y="780.60" width="10.40" height="10.40" stroke-width="1.4"/>
<line x1="260.35" y1="783.60" x2="260.35" y2="774.50" stroke-dasharray="3.8 2.8"/>
<line x1="260.35" y1="795.40" x2="260.35" y2="807.90" stroke-dasharray="3.8 2.8"/>
<line x1="257.95" y1="774.50" x2="262.75" y2="774.50"/>
<line x1="257.95" y1="807.90" x2="262.75" y2="807.90"/>
<rect x="255.15" y="784.30" width="10.40" height="10.40" stroke-width="1.4"/>
<line x1="288.53" y1="781.50" x2="288.53" y2="772.40" stroke-dasharray="3.8 2.8"/>
<line x1="288.53" y1="793.30" x2="288.53" y2="803.80" stroke-dasharray="3.8 2.8"/>
<line x1="286.13" y1="772.40" x2="290.93" y2="772.40"/>
<line x1="286.13" y1="803.80" x2="290.93" y2="803.80"/>
<rect x="283.33" y="782.20" width="10.40" height="10.40" stroke-width="1.4"/>
<line x1="319.84" y1="759.80" x2="319.84" y2="750.20" stroke-dasharray="3.8 2.8"/>
<line x1="319.84" y1="771.60" x2="319.84" y2="782.70" stroke-dasharray="3.8 2.8"/>
<line x1="317.44" y1="750.20" x2="322.24" y2="750.20"/>
<line x1="317.44" y1="782.70" x2="322.24" y2="782.70"/>
<rect x="314.64" y="760.50" width="10.40" height="10.40" stroke-width="1.4"/>
<line x1="351.15" y1="766.10" x2="351.15" y2="754.10" stroke-dasharray="3.8 2.8"/>
<line x1="351.15" y1="777.90" x2="351.15" y2="791.20" stroke-dasharray="3.8 2.8"/>
<line x1="348.75" y1="754.10" x2="353.55" y2="754.10"/>
<line x1="348.75" y1="791.20" x2="353.55" y2="791.20"/>
<rect x="345.95" y="766.80" width="10.40" height="10.40" stroke-width="1.4"/>
<line x1="385.59" y1="780.70" x2="385.59" y2="767.20" stroke-dasharray="3.8 2.8"/>
<line x1="385.59" y1="792.50" x2="385.59" y2="809.10" stroke-dasharray="3.8 2.8"/>
<line x1="383.19" y1="767.20" x2="387.99" y2="767.20"/>
<line x1="383.19" y1="809.10" x2="387.99" y2="809.10"/>
<rect x="380.39" y="781.40" width="10.40" height="10.40" stroke-width="1.4"/>
<line x1="423.16" y1="761.30" x2="423.16" y2="744.90" stroke-dasharray="3.8 2.8"/>
<line x1="423.16" y1="773.10" x2="423.16" y2="792.80" stroke-dasharray="3.8 2.8"/>
<line x1="420.76" y1="744.90" x2="425.56" y2="744.90"/>
<line x1="420.76" y1="792.80" x2="425.56" y2="792.80"/>
<rect x="417.96" y="762.00" width="10.40" height="10.40" stroke-width="1.4"/>
<line x1="460.73" y1="748.70" x2="460.73" y2="725.80" stroke-dasharray="3.8 2.8"/>
<line x1="460.73" y1="760.50" x2="460.73" y2="789.40" stroke-dasharray="3.8 2.8"/>
<line x1="458.33" y1="725.80" x2="463.13" y2="725.80"/>
<line x1="458.33" y1="789.40" x2="463.13" y2="789.40"/>
<rect x="455.53" y="749.40" width="10.40" height="10.40" stroke-width="1.4"/>
<line x1="604.76" y1="754.60" x2="604.76" y2="722.20" stroke-dasharray="3.8 2.8"/>
<line x1="604.76" y1="766.40" x2="604.76" y2="809.20" stroke-dasharray="3.8 2.8"/>
<line x1="602.36" y1="722.20" x2="607.16" y2="722.20"/>
<line x1="602.36" y1="809.20" x2="607.16" y2="809.20"/>
<rect x="599.56" y="755.30" width="10.40" height="10.40" stroke-width="1.4"/>
</g>
<g clip-path="url(#cr)" fill="none" stroke="#0000f0" stroke-width="1.5">
<polyline points="122.59,830.50 150.76,795.90 169.55,859.80 188.34,812.70 210.25,788.00 235.30,794.70 260.35,780.30 288.53,801.40 319.84,780.50 351.15,783.70 385.59,786.60 423.16,792.10 460.73,774.20 604.76,704.70"/>
<line x1="122.59" y1="807.80" x2="122.59" y2="857.20"/>
<line x1="119.99" y1="807.80" x2="125.19" y2="807.80"/>
<line x1="119.99" y1="857.20" x2="125.19" y2="857.20"/>
<polygon points="117.19,835.70 127.99,835.70 122.59,825.10" fill="#0000f0" stroke="none"/>
<line x1="150.76" y1="775.10" x2="150.76" y2="819.60"/>
<line x1="148.16" y1="775.10" x2="153.36" y2="775.10"/>
<line x1="148.16" y1="819.60" x2="153.36" y2="819.60"/>
<polygon points="145.36,801.10 156.16,801.10 150.76,790.50" fill="#0000f0" stroke="none"/>
<line x1="169.55" y1="838.70" x2="169.55" y2="884.90"/>
<line x1="166.95" y1="838.70" x2="172.15" y2="838.70"/>
<line x1="166.95" y1="884.90" x2="172.15" y2="884.90"/>
<polygon points="164.15,865.00 174.95,865.00 169.55,854.40" fill="#0000f0" stroke="none"/>
<line x1="188.34" y1="794.40" x2="188.34" y2="832.00"/>
<line x1="185.74" y1="794.40" x2="190.94" y2="794.40"/>
<line x1="185.74" y1="832.00" x2="190.94" y2="832.00"/>
<polygon points="182.94,817.90 193.74,817.90 188.34,807.30" fill="#0000f0" stroke="none"/>
<line x1="210.25" y1="774.50" x2="210.25" y2="803.80"/>
<line x1="207.65" y1="774.50" x2="212.85" y2="774.50"/>
<line x1="207.65" y1="803.80" x2="212.85" y2="803.80"/>
<polygon points="204.85,793.20 215.65,793.20 210.25,782.60" fill="#0000f0" stroke="none"/>
<line x1="235.30" y1="780.30" x2="235.30" y2="810.80"/>
<line x1="232.70" y1="780.30" x2="237.90" y2="780.30"/>
<line x1="232.70" y1="810.80" x2="237.90" y2="810.80"/>
<polygon points="229.90,799.90 240.70,799.90 235.30,789.30" fill="#0000f0" stroke="none"/>
<line x1="260.35" y1="766.50" x2="260.35" y2="796.00"/>
<line x1="257.75" y1="766.50" x2="262.95" y2="766.50"/>
<line x1="257.75" y1="796.00" x2="262.95" y2="796.00"/>
<polygon points="254.95,785.50 265.75,785.50 260.35,774.90" fill="#0000f0" stroke="none"/>
<line x1="288.53" y1="786.80" x2="288.53" y2="817.70"/>
<line x1="285.93" y1="786.80" x2="291.13" y2="786.80"/>
<line x1="285.93" y1="817.70" x2="291.13" y2="817.70"/>
<polygon points="283.13,806.60 293.93,806.60 288.53,796.00" fill="#0000f0" stroke="none"/>
<line x1="319.84" y1="765.20" x2="319.84" y2="796.70"/>
<line x1="317.24" y1="765.20" x2="322.44" y2="765.20"/>
<line x1="317.24" y1="796.70" x2="322.44" y2="796.70"/>
<polygon points="314.44,785.70 325.24,785.70 319.84,775.10" fill="#0000f0" stroke="none"/>
<line x1="351.15" y1="766.40" x2="351.15" y2="802.40"/>
<line x1="348.55" y1="766.40" x2="353.75" y2="766.40"/>
<line x1="348.55" y1="802.40" x2="353.75" y2="802.40"/>
<polygon points="345.75,788.90 356.55,788.90 351.15,778.30" fill="#0000f0" stroke="none"/>
<line x1="385.59" y1="768.20" x2="385.59" y2="807.20"/>
<line x1="382.99" y1="768.20" x2="388.19" y2="768.20"/>
<line x1="382.99" y1="807.20" x2="388.19" y2="807.20"/>
<polygon points="380.19,791.80 390.99,791.80 385.59,781.20" fill="#0000f0" stroke="none"/>
<line x1="423.16" y1="769.70" x2="423.16" y2="819.10"/>
<line x1="420.56" y1="769.70" x2="425.76" y2="769.70"/>
<line x1="420.56" y1="819.10" x2="425.76" y2="819.10"/>
<polygon points="417.76,797.30 428.56,797.30 423.16,786.70" fill="#0000f0" stroke="none"/>
<line x1="460.73" y1="745.50" x2="460.73" y2="808.50"/>
<line x1="458.13" y1="745.50" x2="463.33" y2="745.50"/>
<line x1="458.13" y1="808.50" x2="463.33" y2="808.50"/>
<polygon points="455.33,779.40 466.13,779.40 460.73,768.80" fill="#0000f0" stroke="none"/>
<line x1="604.76" y1="673.75" x2="604.76" y2="742.00"/>
<line x1="602.16" y1="673.75" x2="607.36" y2="673.75"/>
<line x1="602.16" y1="742.00" x2="607.36" y2="742.00"/>
<polygon points="599.36,709.90 610.16,709.90 604.76,699.30" fill="#0000f0" stroke="none"/>
</g>
<rect x="147.50" y="481.80" width="11.00" height="11.00" fill="#000"/>
<line x1="128.5" y1="513.1" x2="176.5" y2="513.1" stroke="#2f8a0b" stroke-width="1.1" stroke-dasharray="3.8 3.1"/>
<rect x="147.6" y="507.70000000000005" width="10.8" height="10.8" fill="none" stroke="#2f8a0b" stroke-width="1.2"/>
<line x1="128.5" y1="539.5" x2="176.5" y2="539.5" stroke="#0000f0" stroke-width="1.1"/>
<polygon points="147.7,544.5 158.3,544.5 153.0,534.0" fill="#0000f0"/>
<text transform="translate(759.9,254.6) rotate(-90) scale(1,1.03)" font-size="18.9" fill="#777777" stroke="#777777" stroke-width="0.25">Rivet 4.1.0, ≥ 100k events</text>
<text transform="translate(762.0,629.0) rotate(-90) scale(1,1.03)" font-size="19.0" fill="#5c5c5c" stroke="#5c5c5c" stroke-width="0.25">mcplots.cern.ch [arXiv:1306.3436]</text>
<text transform="translate(104.4,29.3) scale(1,1.07)" font-size="24.2" stroke="#000" stroke-width="0.25">13000 GeV pp</text>
<text transform="translate(731.2,29.3) scale(1,1.07)" font-size="24" text-anchor="end" stroke="#000" stroke-width="0.25">Jets</text>
<text transform="translate(75.7,87.1) scale(1,1.07)" font-size="24" stroke="#000" stroke-width="0.25" textLength="548.0" lengthAdjust="spacingAndGlyphs">CMS, 13 TeV, AK4 jets, central dijet region, 186 &lt;p</text>
<text transform="translate(615.0,70.9) scale(1,1.04)" font-size="16" stroke="#000" stroke-width="0.25">{jet</text>
<text transform="translate(614.6,99.6) scale(1,1.04)" font-size="16" stroke="#000" stroke-width="0.25">T</text>
<text transform="translate(637.0,87.1) scale(1,1.07)" font-size="24" stroke="#000" stroke-width="0.25">}&lt; 254 GeV</text>
<text transform="translate(333.6,604.6) scale(1,1.03)" font-size="15.8" fill="#999999" stroke="#999999" stroke-width="0.25">(CMS_2021_I1920187)</text>
<text transform="translate(187.4,493.0) scale(1,1.035)" font-size="19" stroke="#000" stroke-width="0.25">CMS</text>
<text transform="translate(187.2,519.0) scale(1,1.035)" font-size="19" stroke="#000" stroke-width="0.25">Herwig 7.2.1 default</text>
<text transform="translate(187.2,545.2) scale(1,1.035)" font-size="19" stroke="#000" stroke-width="0.25">Pythia 8.315 default</text>
<text transform="translate(55.0,155.3) scale(1,1.05)" font-size="22.6" stroke="#000" stroke-width="0.25">10</text>
<text transform="translate(71.8,312.2) scale(1,1.05)" font-size="22.6" stroke="#000" stroke-width="0.25">1</text>
<text transform="translate(40.0,470.5) scale(1,1.05)" font-size="22.6" stroke="#000" stroke-width="0.25">10</text>
<text transform="translate(65.2,462.8) scale(1,1.05)" font-size="14.2" stroke="#000" stroke-width="0.25">−1</text>
<text transform="translate(37.9,628.3) scale(1,1.05)" font-size="22.6" stroke="#000" stroke-width="0.25">10</text>
<text transform="translate(62.8,619.2) scale(1,1.05)" font-size="14.2" stroke="#000" stroke-width="0.25">−2</text>
<text transform="translate(63.8,683.0) scale(1,1.065)" font-size="23.0" stroke="#000" stroke-width="0.25">2</text>
<text transform="translate(66.3,805.4) scale(1,1.065)" font-size="23.0" stroke="#000" stroke-width="0.25">1</text>
<text transform="translate(45.1,925.4) scale(1,1.065)" font-size="23.0" stroke="#000" stroke-width="0.25">0.5</text>
<text transform="translate(748.2,683.0) scale(1,1.065)" font-size="23.0" stroke="#000" stroke-width="0.25">2</text>
<text transform="translate(747.8,805.4) scale(1,1.065)" font-size="23.0" stroke="#000" stroke-width="0.25">1</text>
<text transform="translate(748.2,925.4) scale(1,1.065)" font-size="23.0" stroke="#000" stroke-width="0.25">0.5</text>
<text transform="translate(103.6,978.3) scale(1,1.065)" font-size="23.2" text-anchor="middle" stroke="#000" stroke-width="0.25">0</text>
<text transform="translate(417.4,978.3) scale(1,1.065)" font-size="23.2" text-anchor="middle" stroke="#000" stroke-width="0.25">0.5</text>
<text transform="translate(732.0,978.3) scale(1,1.065)" font-size="23.2" text-anchor="middle" stroke="#000" stroke-width="0.25">1</text>
<text transform="translate(423.8,1006.8)" font-size="25.4" stroke="#000" stroke-width="0.25">groomed LHA (charged-only)</text>
<text transform="translate(35.9,846.4) rotate(-90) scale(1,1.03)" font-size="18" stroke="#000" stroke-width="0.25">Ratio to CMS</text>
<g transform="rotate(-90)" font-size="24" fill="#000" stroke="#000" stroke-width="0.25">
<text x="-267.0" y="27.9" font-size="25">#</text>
<rect x="-252.9" y="20.2" width="112.5" height="2.1" stroke="none"/>
<text x="-194.9" y="18.3" text-anchor="middle">1</text>
<text x="-245.9" y="41.5">d</text><text x="-225.7" y="41.5">N</text><text x="-201.9" y="41.5">/</text><text x="-182.0" y="41.5">d</text><text x="-162.2" y="41.5">p</text><text x="-152.4" y="56.4" font-size="17">T</text>
<text x="-140.0" y="27.9" font-size="25">#</text>
<rect x="-127.0" y="20.0" width="92.1" height="2.1" stroke="none"/>
<text x="-95.8" y="17.0">d</text><text x="-81.6" y="5.4" font-size="16">2</text><text x="-74.8" y="17.0">N</text>
<text x="-121.2" y="42.6">d</text><text x="-101.1" y="42.6">p</text><text x="-89.2" y="56.6" font-size="17">T</text><text x="-64.7" y="42.6">d</text><text x="-48.6" y="42.6" font-size="26.5">λ</text>
</g>
</svg>
</body></html>
